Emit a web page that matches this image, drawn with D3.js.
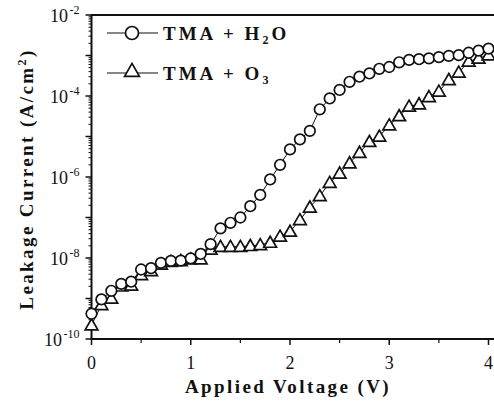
<!DOCTYPE html>
<html>
<head>
<meta charset="utf-8">
<script src="https://cdn.jsdelivr.net/npm/d3@7"></script>
<style>
	html, body { margin: 0; padding: 0; background: #fff; }
	svg { display: block; }
	.tick-label { font-family: "Liberation Serif", "Times New Roman", serif; font-size: 18px; fill: #111; }
	.axis-title { font-family: "Liberation Serif", "Times New Roman", serif; font-size: 19px; font-weight: bold; fill: #111; letter-spacing: 2.4px; }
	.legend-text { font-family: "Liberation Serif", "Times New Roman", serif; font-size: 19px; font-weight: bold; fill: #111; letter-spacing: 3px; }
</style>
</head>
<body>
<div id="chart"></div>
<script>
// applied voltage (V), one reading every 0.1 V
const voltages = [
	0.0, 0.1, 0.2, 0.3, 0.4, 0.5, 0.6, 0.7, 0.8, 0.9,
	1.0, 1.1, 1.2, 1.3, 1.4, 1.5, 1.6, 1.7, 1.8, 1.9,
	2.0, 2.1, 2.2, 2.3, 2.4, 2.5, 2.6, 2.7, 2.8, 2.9,
	3.0, 3.1, 3.2, 3.3, 3.4, 3.5, 3.6, 3.7, 3.8, 3.9, 4.0
];

// leakage current (A/cm^2), TMA + H2O
const currentH2O = [
	4.2e-10, 9.5e-10, 1.55e-9, 2.3e-9, 2.6e-9, 5.2e-9, 5.6e-9, 7.6e-9, 8.5e-9, 8.6e-9,
	9.8e-9, 1.26e-8, 2.2e-8, 5.4e-8, 7.4e-8, 1.0e-7, 1.9e-7, 3.6e-7, 8.7e-7, 2.0e-6,
	4.8e-6, 8.5e-6, 1.38e-5, 4.7e-5, 8.7e-5, 1.41e-4, 2.24e-4, 3.0e-4, 3.6e-4, 4.7e-4,
	5.2e-4, 6.8e-4, 7.8e-4, 8.1e-4, 8.5e-4, 9.1e-4, 9.8e-4, 1.02e-3, 1.17e-3, 1.32e-3, 1.48e-3
];

// leakage current (A/cm^2), TMA + O3
const currentO3 = [
	2.2e-10, 6.9e-10, 1.0e-9, 2.0e-9, 2.1e-9, 3.8e-9, 4.8e-9, 6.9e-9, 8.1e-9, 8.5e-9,
	9.3e-9, 9.3e-9, 1.62e-8, 1.9e-8, 1.9e-8, 1.9e-8, 2.0e-8, 2.1e-8, 2.4e-8, 3.4e-8,
	4.5e-8, 8.7e-8, 1.78e-7, 3.4e-7, 7.2e-7, 1.23e-6, 2.2e-6, 4.0e-6, 7.4e-6, 1.0e-5,
	1.9e-5, 3.2e-5, 5.5e-5, 6.3e-5, 9.5e-5, 1.29e-4, 2.5e-4, 3.8e-4, 7.1e-4, 8.5e-4, 1.02e-3
];

const xTicks = [0, 1, 2, 3, 4];
const xMinorTicks = [0.5, 1.5, 2.5, 3.5];
const yTickExponents = [-2, -4, -6, -8, -10];

const seriesNames = ['TMA + H', 'TMA + O'];
const seriesSubs = ['2', '3'];
const seriesTails = ['O', ''];


function drawChart(rootId) {
	const width = 494;
	const height = 405;
	const margin = {top: 15, right: 5.5, bottom: 66, left: 91.5};

	const svg = d3.select('#' + rootId)
	.append('svg')
	.attr('width', width)
	.attr('height', height);

	const x = d3.scaleLinear()
	.domain([0, 4])
	.range([margin.left, width - margin.right]);

	const y = d3.scaleLog()
	.domain([1e-10, 1e-2])
	.range([height - margin.bottom, margin.top]);

	// minor log ticks on the y axis (2..9 times each decade)
	const yMinor = y.ticks().filter((v)=>{
		const m = Math.round(v / Math.pow(10, Math.floor(Math.log10(v) + 1e-9)));
		return m != 1;
	});
	const yDecades = d3.range(-10, -1).map((e)=>Math.pow(10, e));

	const axes = svg.append('g').attr('stroke', '#111').attr('fill', 'none');

	axes.selectAll('line.y-minor')
	.data(yMinor)
	.enter()
	.append('line')
	.attr('class', 'y-minor')
	.attr('x1', margin.left - 3)
	.attr('x2', margin.left)
	.attr('y1', (d)=>y(d))
	.attr('y2', (d)=>y(d))
	.attr('stroke-width', 1);

	axes.selectAll('line.y-major')
	.data(yDecades)
	.enter()
	.append('line')
	.attr('class', 'y-major')
	.attr('x1', margin.left - 6)
	.attr('x2', margin.left)
	.attr('y1', (d)=>y(d))
	.attr('y2', (d)=>y(d))
	.attr('stroke-width', 1.5);

	axes.selectAll('line.x-major')
	.data(xTicks)
	.enter()
	.append('line')
	.attr('class', 'x-major')
	.attr('x1', (d)=>x(d))
	.attr('x2', (d)=>x(d))
	.attr('y1', y(1e-10))
	.attr('y2', y(1e-10) + 6)
	.attr('stroke-width', 1.5);

	axes.selectAll('line.x-minor')
	.data(xMinorTicks)
	.enter()
	.append('line')
	.attr('class', 'x-minor')
	.attr('x1', (d)=>x(d))
	.attr('x2', (d)=>x(d))
	.attr('y1', y(1e-10))
	.attr('y2', y(1e-10) + 4)
	.attr('stroke-width', 1.2);

	// frame: left, bottom and top
	axes.append('path')
	.attr('d', `M${width},${y(1e-2)} H${x(0)} V${y(1e-10)} H${width}`)
	.attr('stroke-width', 2);

	// tick labels
	svg.selectAll('text.x-label')
	.data(xTicks)
	.enter()
	.append('text')
	.attr('class', 'tick-label x-label')
	.attr('x', (d)=>x(d))
	.attr('y', y(1e-10) + 30)
	.attr('text-anchor', 'middle')
	.text((d)=>d);

	const yLabels = svg.selectAll('text.y-label')
	.data(yTickExponents)
	.enter()
	.append('text')
	.attr('class', 'tick-label y-label')
	.attr('x', margin.left - 12)
	.attr('y', (e)=>y(Math.pow(10, e)) + 7)
	.attr('text-anchor', 'end');
	yLabels.append('tspan').text('10');
	yLabels.append('tspan')
	.attr('dy', -8)
	.attr('font-size', 12)
	.attr('dx', 1.5)
	.text((e)=>String(e));

	// axis titles
	svg.append('text')
	.attr('class', 'axis-title')
	.attr('x', 288)
	.attr('y', 393)
	.attr('text-anchor', 'middle')
	.text('Applied Voltage (V)');

	const yTitle = svg.append('text')
	.attr('class', 'axis-title')
	.attr('transform', `translate(33,${(y(1e-2) + y(1e-10)) / 2 + 2}) rotate(-90)`)
	.attr('text-anchor', 'middle');
	yTitle.append('tspan').text('Leakage Current (A/cm');
	yTitle.append('tspan').attr('dy', -7).attr('font-size', 12).text('2');
	yTitle.append('tspan').attr('dy', 7).text(')');

	// data lines
	const line = d3.line()
	.x((d)=>x(d[0]))
	.y((d)=>y(d[1]));

	const h2o = voltages.map((v, i)=>[v, currentH2O[i]]);
	const o3 = voltages.map((v, i)=>[v, currentO3[i]]);

	[h2o, o3].forEach((pts)=>{
		svg.append('path')
		.datum(pts)
		.attr('d', line)
		.attr('fill', 'none')
		.attr('stroke', '#111')
		.attr('stroke-width', 1);
	});

	const triangle = d3.symbol().type(d3.symbolTriangle).size(70);

	svg.append('g')
	.selectAll('path')
	.data(o3)
	.enter()
	.append('path')
	.attr('d', triangle)
	.attr('transform', (d)=>`translate(${x(d[0])},${y(d[1]) + 1})`)
	.attr('fill', '#fff')
	.attr('stroke', '#111')
	.attr('stroke-width', 1.7);

	svg.append('g')
	.selectAll('circle')
	.data(h2o)
	.enter()
	.append('circle')
	.attr('cx', (d)=>x(d[0]))
	.attr('cy', (d)=>y(d[1]))
	.attr('r', 5.3)
	.attr('fill', '#fff')
	.attr('stroke', '#111')
	.attr('stroke-width', 1.7);

	// legend
	const legend = svg.append('g');
	const legendRows = [0, 1];
	const rowY = [33, 73];

	legendRows.forEach((i)=>{
		legend.append('line')
		.attr('x1', 107)
		.attr('x2', 158)
		.attr('y1', rowY[i])
		.attr('y2', rowY[i])
		.attr('stroke', '#111')
		.attr('stroke-width', 1.2);

		if(i == 0) {
			legend.append('circle')
			.attr('cx', 132)
			.attr('cy', rowY[i])
			.attr('r', 6.5)
			.attr('fill', '#fff')
			.attr('stroke', '#111')
			.attr('stroke-width', 1.7);
		}
		else {
			legend.append('path')
			.attr('d', d3.symbol().type(d3.symbolTriangle).size(95))
			.attr('transform', `translate(132,${rowY[i] - 1})`)
			.attr('fill', '#fff')
			.attr('stroke', '#111')
			.attr('stroke-width', 1.7);
		}

		const t = legend.append('text')
		.attr('class', 'legend-text')
		.attr('x', 163)
		.attr('y', rowY[i] + 7);
		t.append('tspan').text(seriesNames[i]);
		t.append('tspan').attr('dy', 4).attr('font-size', 12).text(seriesSubs[i]);
		t.append('tspan').attr('dy', -4).text(seriesTails[i]);
	});
}

drawChart('chart');
</script>
</body>
</html>
